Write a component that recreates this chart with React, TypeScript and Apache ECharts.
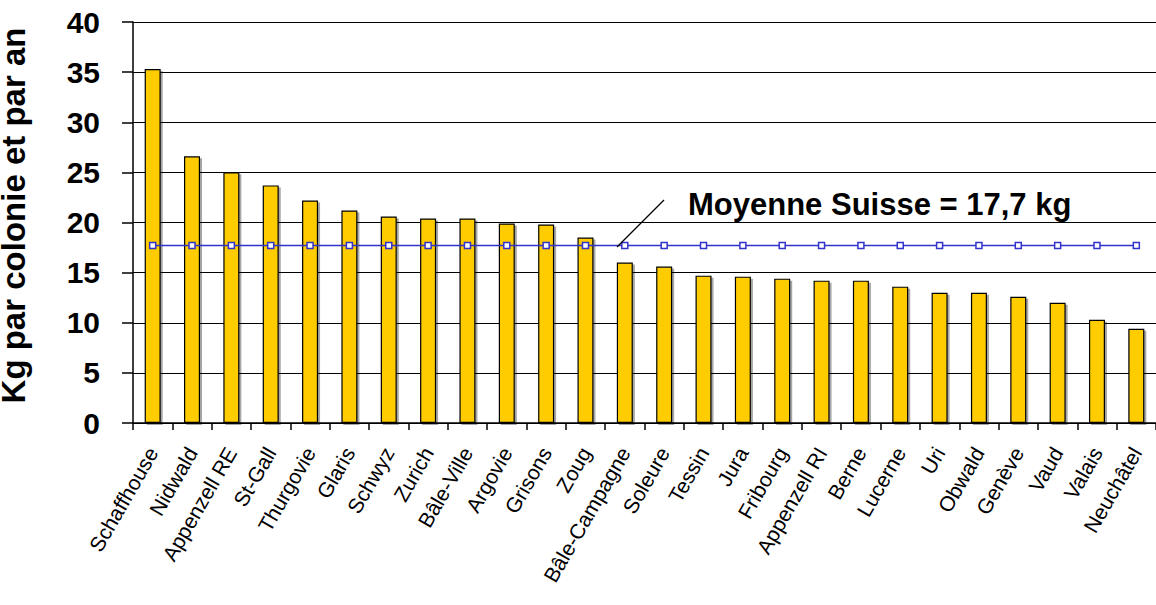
import React, { useEffect, useRef } from "react";
import * as echarts from "echarts";

const cantons = [
  "Schaffhouse", "Nidwald", "Appenzell RE", "St-Gall", "Thurgovie", "Glaris",
  "Schwyz", "Zurich", "Bâle-Ville", "Argovie", "Grisons", "Zoug",
  "Bâle-Campagne", "Soleure", "Tessin", "Jura", "Fribourg", "Appenzell RI",
  "Berne", "Lucerne", "Uri", "Obwald", "Genève", "Vaud", "Valais", "Neuchâtel",
];

const honeyPerColony = [
  35.3, 26.6, 25.0, 23.7, 22.2, 21.2, 20.6, 20.4, 20.4, 19.9, 19.8, 18.5,
  16.0, 15.6, 14.7, 14.6, 14.4, 14.2, 14.2, 13.6, 13.0, 13.0, 12.6, 12.0,
  10.3, 9.4,
];

const swissAverage = [
  17.7, 17.7, 17.7, 17.7, 17.7, 17.7, 17.7, 17.7, 17.7, 17.7, 17.7, 17.7, 17.7,
  17.7, 17.7, 17.7, 17.7, 17.7, 17.7, 17.7, 17.7, 17.7, 17.7, 17.7, 17.7, 17.7,
];

const yMin = 0;
const yMax = 40;
const yStep = 5;
const yAxisTitle = "Kg par colonie et par an";
const averageLabel = "Moyenne Suisse = 17,7 kg";

const FONT = "Liberation Sans, Arial, Helvetica, sans-serif";

export default function App() {
  const ref = useRef<HTMLDivElement>(null);

  useEffect(() => {
    document.body.style.margin = "0";
    if (!ref.current) return;
    const chart = echarts.init(ref.current, null, { renderer: "svg" });
    chart.setOption({
      animation: false,
      backgroundColor: "#ffffff",
      grid: {
        left: 133,
        right: 0,
        top: 22,
        bottom: 182,
        containLabel: false,
        outerBoundsMode: "none",
      },
      xAxis: {
        type: "category",
        data: cantons,
        boundaryGap: true,
        axisLine: { show: true, lineStyle: { color: "#000", width: 1.5 } },
        axisTick: {
          show: true,
          alignWithLabel: false,
          length: 7,
          lineStyle: { color: "#000", width: 1.5 },
        },
        axisLabel: {
          interval: 0,
          rotate: 60,
          margin: 26,
          color: "#000",
          fontFamily: FONT,
          fontSize: 21,
        },
        splitLine: { show: false },
      },
      yAxis: {
        type: "value",
        min: yMin,
        max: yMax,
        interval: yStep,
        name: yAxisTitle,
        nameLocation: "middle",
        nameGap: 103,
        nameTextStyle: {
          color: "#000",
          fontFamily: FONT,
          fontWeight: "bold",
          fontSize: 33,
          padding: [0, 0, 0, 14],
        },
        axisLine: { show: true, lineStyle: { color: "#000", width: 1.5 } },
        axisTick: {
          show: true,
          inside: false,
          length: 11,
          lineStyle: { color: "#000", width: 1.5 },
        },
        axisLabel: {
          color: "#000",
          fontFamily: FONT,
          fontWeight: "bold",
          fontSize: 30,
          margin: 33,
        },
        splitLine: { show: true, lineStyle: { color: "#000", width: 1.2 } },
      },
      graphic: [
        {
          type: "line",
          shape: { x1: 617, y1: 247, x2: 664, y2: 200 },
          style: { stroke: "#000", lineWidth: 1.2 },
          z: 100,
        },
        {
          type: "text",
          x: 688,
          y: 204,
          style: {
            text: averageLabel,
            fill: "#000",
            font: `bold 31px ${FONT}`,
            verticalAlign: "middle",
          },
          z: 100,
        },
      ],
      series: [
        {
          type: "bar",
          data: honeyPerColony,
          barWidth: 16,
          itemStyle: {
            color: "#FFCC00",
            borderColor: "#000",
            borderWidth: 1.2,
            shadowColor: "rgba(0,0,0,0.35)",
            shadowOffsetX: 2,
            shadowOffsetY: 2,
            shadowBlur: 1,
          },
          z: 2,
        },
        {
          type: "line",
          data: swissAverage,
          symbol: "rect",
          symbolSize: 6,
          lineStyle: { color: "#3333CC", width: 1.5 },
          itemStyle: { color: "#ffffff", borderColor: "#3333CC", borderWidth: 1.5 },
          z: 5,
        },
      ],
    });
    return () => chart.dispose();
  }, []);

  return <div ref={ref} style={{ width: 1156, height: 605 }} />;
}
